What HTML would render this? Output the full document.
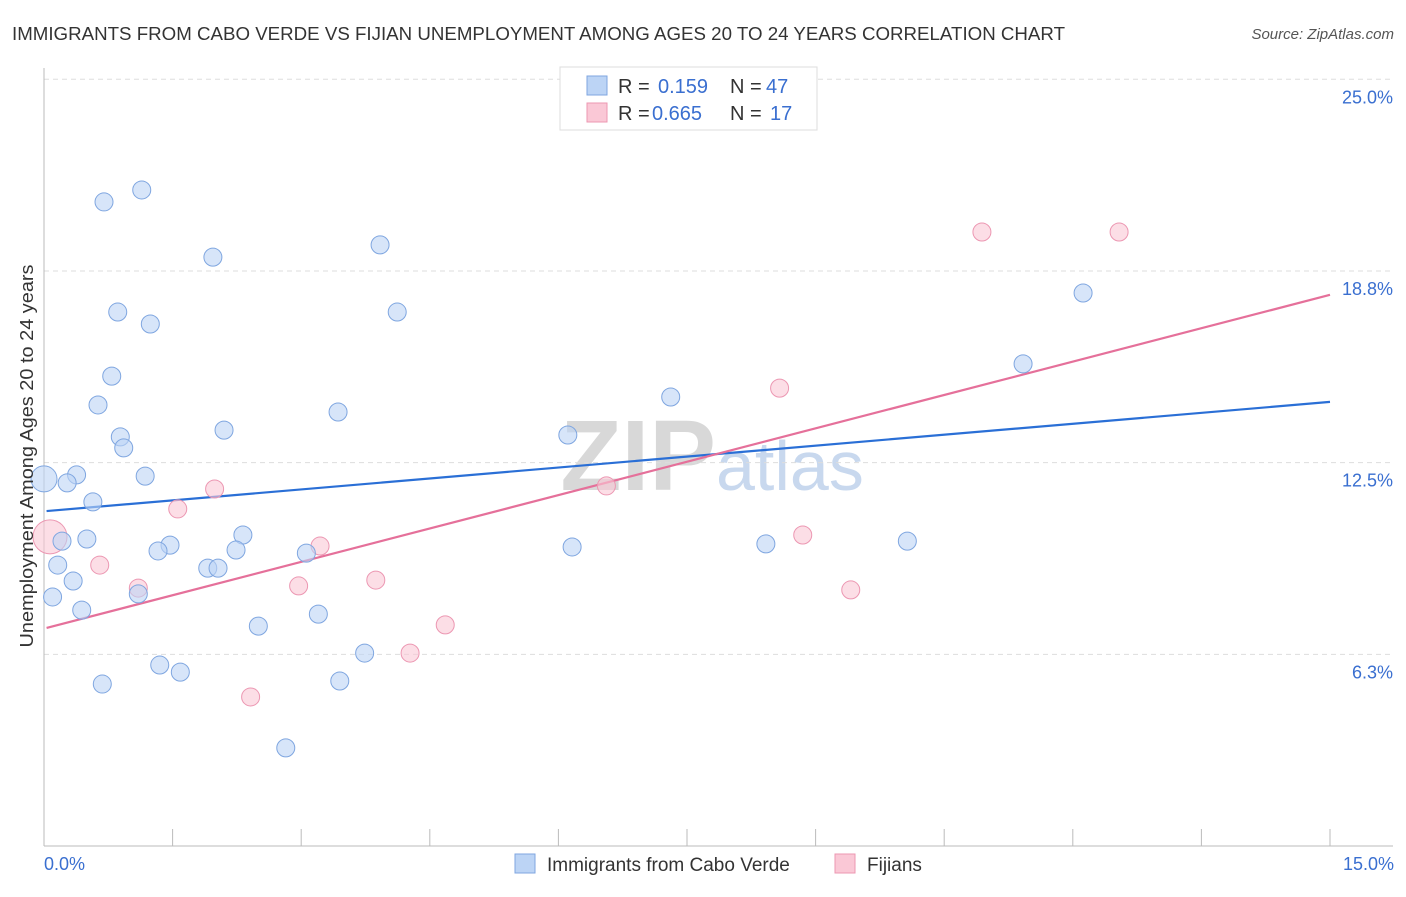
<!DOCTYPE html>
<html><head><meta charset="utf-8"><style>
body{margin:0;background:#fff;font-family:"Liberation Sans",sans-serif;}
svg text{font-family:"Liberation Sans",sans-serif;}
</style></head><body>
<svg id="chart" width="1406" height="892" xmlns="http://www.w3.org/2000/svg">
<text x="12" y="40" font-size="18" fill="#333" textLength="1053" lengthAdjust="spacingAndGlyphs">IMMIGRANTS FROM CABO VERDE VS FIJIAN UNEMPLOYMENT AMONG AGES 20 TO 24 YEARS CORRELATION CHART</text>
<text x="1394" y="39" font-size="15" fill="#555" text-anchor="end" font-style="italic">Source: ZipAtlas.com</text>
<text x="716" y="490" font-size="100" fill="#d8d8d8" text-anchor="end" font-family="Liberation Serif" font-weight="bold">ZIP</text>
<text x="716" y="490" font-size="70" fill="#c8d8ee">atlas</text>
<g id="grid"></g>
<g id="axes"></g>
<g id="lines"></g>
<g id="points"></g>
<text x="33" y="456" font-size="18" fill="#333" text-anchor="middle" textLength="383" lengthAdjust="spacingAndGlyphs" transform="rotate(-90 33 456)">Unemployment Among Ages 20 to 24 years</text>
<text x="44" y="870" font-size="18" fill="#3a6fd0">0.0%</text>
<text x="1394" y="870" font-size="18" fill="#3a6fd0" text-anchor="end">15.0%</text>
<g>
<rect x="560" y="67" width="257" height="63" fill="#fff" stroke="#ddd"/>
<rect x="587" y="76" width="20" height="19" fill="#bcd4f5" stroke="#7fa6e0"/>
<rect x="587" y="103" width="20" height="19" fill="#fac8d6" stroke="#ec97b2"/>
<text x="618" y="93" font-size="20" fill="#333">R = </text><text x="658" y="93" font-size="20" fill="#3a6fd0">0.159</text>
<text x="730" y="93" font-size="20" fill="#333">N = </text><text x="766" y="93" font-size="20" fill="#3a6fd0">47</text>
<text x="618" y="120" font-size="20" fill="#333">R = </text><text x="652" y="120" font-size="20" fill="#3a6fd0">0.665</text>
<text x="730" y="120" font-size="20" fill="#333">N = </text><text x="770" y="120" font-size="20" fill="#3a6fd0">17</text>
</g>
<g>
<rect x="515" y="854" width="20" height="19" fill="#bcd4f5" stroke="#7fa6e0"/>
<text x="547" y="871" font-size="19" fill="#333">Immigrants from Cabo Verde</text>
<rect x="835" y="854" width="20" height="19" fill="#fac8d6" stroke="#ec97b2"/>
<text x="867" y="871" font-size="19" fill="#333">Fijians</text>
</g>
</svg>
<script>
const yTicks=[6.25,12.5,18.75,25];
const yTickLabels=["6.3%","12.5%","18.8%","25.0%"];
const xTicks=[0,1.5,3,4.5,6,7.5,9,10.5,12,13.5,15];
const blueX=[0.00,0.70,1.14,1.97,3.92,0.86,1.24,4.12,0.79,0.63,3.43,2.10,0.89,0.93,0.38,0.27,1.18,0.57,2.32,0.21,0.50,1.47,1.33,2.24,3.06,0.16,1.91,2.03,0.34,0.10,1.10,0.44,2.50,3.20,3.74,1.35,1.59,0.68,3.45,2.82,6.11,6.16,7.31,8.42,10.07,11.42,12.12];
const blueY=[11.97,21.00,21.39,19.20,19.60,17.41,17.02,17.41,15.32,14.38,14.15,13.56,13.34,12.98,12.10,11.84,12.06,11.22,10.14,9.94,10.01,9.81,9.62,9.65,9.55,9.16,9.06,9.06,8.64,8.12,8.22,7.69,7.17,7.56,6.29,5.90,5.67,5.28,5.38,3.20,13.40,9.75,14.64,9.85,9.94,15.72,18.03];
const pinkX=[0.07,0.65,1.10,1.56,1.99,2.41,2.97,3.22,3.87,4.27,4.68,6.56,8.58,8.85,9.41,10.94,12.54];
const pinkY=[10.08,9.16,8.41,10.99,11.64,4.86,8.48,9.78,8.67,6.29,7.21,11.74,14.93,10.14,8.35,20.02,20.02];
const blueTrend=[10.92,14.48];
const pinkTrend=[7.11,17.97];
const trendX=[0.03,15];
const NS="http://www.w3.org/2000/svg";
const xs=v=>44+v/15*1286;
const ys=v=>846-v*30.67;
function mk(tag,attrs,parent){const e=document.createElementNS(NS,tag);for(const k in attrs)e.setAttribute(k,attrs[k]);parent.appendChild(e);return e;}
const grid=document.getElementById('grid'),axes=document.getElementById('axes'),lines=document.getElementById('lines'),pts=document.getElementById('points');
yTicks.forEach((t,i)=>{
 const l=mk('line',{x1:44,x2:1393,y1:ys(t),y2:ys(t),stroke:'#ddd','stroke-dasharray':'5,4'},grid);
 
 
 const tx=mk('text',{x:1393,y:ys(t)+24,'font-size':18,fill:'#3a6fd0','text-anchor':'end'},grid);
 tx.textContent=yTickLabels[i];
 
 
});
const ax=mk('line',{x1:44,x2:1393,y1:846,y2:846,stroke:'#bbb'},axes);


const ay=mk('line',{x1:44,x2:44,y1:68,y2:846,stroke:'#bbb'},axes);


xTicks.forEach(t=>{
 const l=mk('line',{x1:xs(t),x2:xs(t),y1:829,y2:846,stroke:'#bbb'},axes);
 
 
});
function dots(X,Y,fill,stroke,name){
 X.forEach((x,i)=>{
  const r=(i===0)?(name==='fijian-point'?17:13):9;
  const c=mk('circle',{cx:xs(x),cy:ys(Y[i]),r:r,fill:fill,'fill-opacity':0.6,stroke:stroke,'stroke-width':1},pts);
  
  
 });
}
dots(pinkX,pinkY,'#fac8d6','#ec97b2','fijian-point');
dots(blueX,blueY,'#bcd4f5','#7fa6e0','cabo-verde-point');
const bl=mk('line',{x1:xs(trendX[0]),x2:xs(trendX[1]),y1:ys(blueTrend[0]),y2:ys(blueTrend[1]),stroke:'#2a6fd6','stroke-width':2.2},lines);


const pl=mk('line',{x1:xs(trendX[0]),x2:xs(trendX[1]),y1:ys(pinkTrend[0]),y2:ys(pinkTrend[1]),stroke:'#e5709a','stroke-width':2.2},lines);


</script>
</body></html>
